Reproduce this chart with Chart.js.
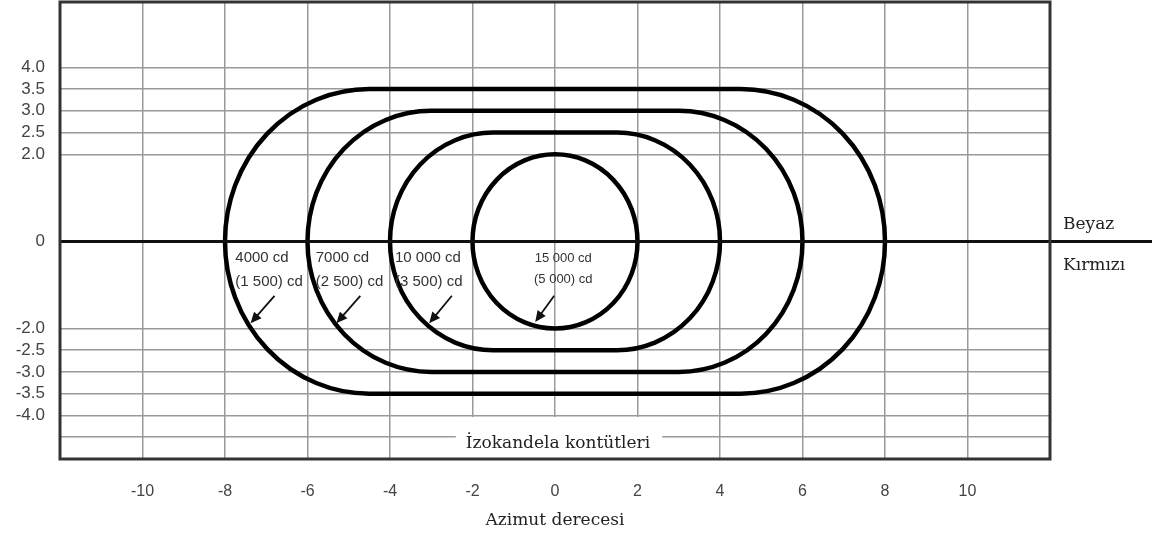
<!DOCTYPE html>
<html>
<head>
<meta charset="utf-8">
<script src="https://cdn.jsdelivr.net/npm/chart.js@4"></script>
<style>
  html, body { margin: 0; padding: 0; background: #fff; }
  #wrap { width: 1157px; height: 534px; }
</style>
</head>
<body>
<div id="wrap"><canvas id="izokandela"></canvas></div>
<script>
// eksen işaretleri
const xTicks = [-10, -8, -6, -4, -2, 0, 2, 4, 6, 8, 10];
const yTicks = [-4.5, -4.0, -3.5, -3.0, -2.5, -2.0, 0, 2.0, 2.5, 3.0, 3.5, 4.0];

// kontürler: beyaz / kırmızı ışık şiddeti, yatay ve dikey yarı genişlik (derece)
const beyazCd = ['4000 cd', '7000 cd', '10 000 cd', '15 000 cd'];
const kirmiziCd = ['(1 500) cd', '(2 500) cd', '(3 500) cd', '(5 000) cd'];
const yariGenislik = [8, 6, 4, 2];
const yariYukseklik = [3.5, 3.0, 2.5, 2.0];

// etiket ve ok yerleri (eksen birimiyle)
const etiketler = [
  { x: -7.75, y1: -0.39, y2: -0.93, hizala: 'left', boy: 15, ok: [-6.8, -1.25, -7.38, -1.88] },
  { x: -5.8, y1: -0.39, y2: -0.93, hizala: 'left', boy: 15, ok: [-4.72, -1.25, -5.3, -1.88] },
  { x: -3.88, y1: -0.39, y2: -0.93, hizala: 'left', boy: 15, ok: [-2.5, -1.25, -3.05, -1.88] },
  { x: 0.2, y1: -0.39, y2: -0.88, hizala: 'center', boy: 13, ok: [-0.02, -1.25, -0.48, -1.85] }
];

const cizimler = {
  id: 'cizimler',
  afterDraw(chart) {
    const ctx = chart.ctx;
    const xs = chart.scales.x, ys = chart.scales.y;
    const a = chart.chartArea;
    const px = v => xs.getPixelForValue(v);
    const py = v => ys.getPixelForValue(v);

    ctx.save();

    // alt başlık kutusu
    ctx.font = '17px "DejaVu Serif"';
    const baslik = 'İzokandela kontütleri';
    const w = ctx.measureText(baslik).width;
    const cx = px(0) + 3;
    ctx.fillStyle = '#fff';
    ctx.fillRect(cx - w / 2 - 10, py(-4.0) + 1.5, w + 22, a.bottom - py(-4.0) - 2);
    ctx.fillStyle = '#222';
    ctx.textAlign = 'center';
    ctx.textBaseline = 'alphabetic';
    ctx.fillText(baslik, cx, a.bottom - 11);

    // izokandela kontürleri
    ctx.strokeStyle = '#000';
    ctx.lineWidth = 4.5;
    yariGenislik.forEach((hw, i) => {
      const hh = yariYukseklik[i];
      const rx = px(hh) - px(0);
      const ry = py(0) - py(hh);
      const sag = px(hw - hh), sol = px(-(hw - hh)), y0 = py(0);
      ctx.beginPath();
      ctx.ellipse(sag, y0, rx, ry, 0, -Math.PI / 2, Math.PI / 2);
      ctx.lineTo(sol, y0 + ry);
      ctx.ellipse(sol, y0, rx, ry, 0, Math.PI / 2, Math.PI * 1.5);
      ctx.closePath();
      ctx.stroke();
    });

    // beyaz / kırmızı ayırma çizgisi
    ctx.lineWidth = 3;
    ctx.strokeStyle = '#111';
    ctx.beginPath();
    ctx.moveTo(a.left, py(0));
    ctx.lineTo(a.right + 102, py(0));
    ctx.stroke();

    // çerçeve
    ctx.lineWidth = 3;
    ctx.strokeStyle = '#333';
    ctx.strokeRect(a.left, a.top, a.right - a.left, a.bottom - a.top);

    // kontür etiketleri ve oklar
    ctx.fillStyle = '#333';
    ctx.textBaseline = 'middle';
    etiketler.forEach((e, i) => {
      ctx.font = e.boy + 'px "Liberation Sans", Arial';
      ctx.textAlign = e.hizala;
      ctx.fillText(beyazCd[i], px(e.x), py(e.y1));
      ctx.fillText(kirmiziCd[i], px(e.x), py(e.y2));

      const [x1, y1, x2, y2] = e.ok;
      const ax = px(x1), ay = py(y1), bx = px(x2), by = py(y2);
      const ang = Math.atan2(by - ay, bx - ax);
      ctx.strokeStyle = '#111';
      ctx.lineWidth = 1.8;
      ctx.beginPath();
      ctx.moveTo(ax, ay);
      ctx.lineTo(bx - 6 * Math.cos(ang), by - 6 * Math.sin(ang));
      ctx.stroke();
      ctx.fillStyle = '#111';
      ctx.beginPath();
      ctx.moveTo(bx, by);
      ctx.lineTo(bx - 11 * Math.cos(ang) + 5 * Math.sin(ang), by - 11 * Math.sin(ang) - 5 * Math.cos(ang));
      ctx.lineTo(bx - 11 * Math.cos(ang) - 5 * Math.sin(ang), by - 11 * Math.sin(ang) + 5 * Math.cos(ang));
      ctx.closePath();
      ctx.fill();
      ctx.fillStyle = '#333';
    });

    // sağdaki ve alttaki yazılar
    ctx.fillStyle = '#222';
    ctx.font = '17px "DejaVu Serif"';
    ctx.textAlign = 'left';
    ctx.textBaseline = 'middle';
    ctx.fillText('Beyaz', a.right + 13, py(0) - 17);
    ctx.fillText('Kırmızı', a.right + 13, py(0) + 24);

    ctx.textAlign = 'center';
    ctx.textBaseline = 'alphabetic';
    ctx.fillText('Azimut derecesi', px(0), 525);

    ctx.restore();
  }
};

new Chart(document.getElementById('izokandela'), {
  type: 'scatter',
  data: { datasets: [] },
  options: {
    responsive: true,
    maintainAspectRatio: false,
    animation: false,
    layout: { padding: { top: 2, right: 107, left: 0, bottom: 0 } },
    plugins: { legend: { display: false }, tooltip: { enabled: false } },
    scales: {
      x: {
        type: 'linear',
        min: -12,
        max: 12,
        afterBuildTicks: axis => { axis.ticks = xTicks.map(v => ({ value: v })); },
        afterFit: scale => {
          scale.height = 75;
          scale.paddingLeft = 0;
          scale.paddingRight = 0;
        },
        grid: { color: '#999', lineWidth: 1.5, drawTicks: false },
        border: { display: false },
        ticks: {
          padding: 23,
          color: '#444',
          font: { family: '"Liberation Sans", Arial', size: 16 },
          callback: v => String(v)
        }
      },
      y: {
        type: 'linear',
        min: -5,
        max: 5.5,
        afterBuildTicks: axis => { axis.ticks = yTicks.map(v => ({ value: v })); },
        afterFit: scale => {
          scale.width = 60;
          scale.paddingTop = 0;
          scale.paddingBottom = 0;
        },
        grid: {
          color: ctx => (ctx.tick && ctx.tick.value === 0 ? 'rgba(0,0,0,0)' : '#999'),
          lineWidth: 1.5,
          drawTicks: false
        },
        border: { display: false },
        ticks: {
          padding: 15,
          color: '#444',
          font: { family: '"Liberation Sans", Arial', size: 17 },
          callback: v => (v === -4.5 ? '' : v === 0 ? '0' : v.toFixed(1))
        }
      }
    }
  },
  plugins: [cizimler]
});
</script>
</body>
</html>
